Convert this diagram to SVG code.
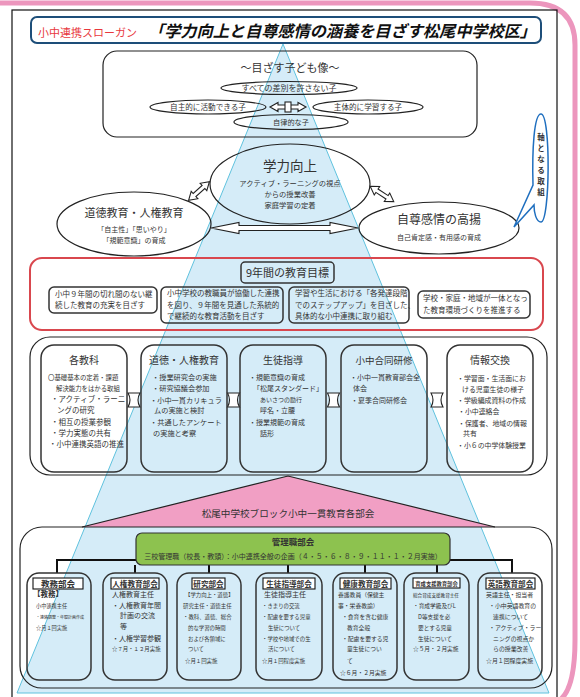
<svg xmlns="http://www.w3.org/2000/svg" width="580" height="697" viewBox="0 0 580 697">
<style>
text{font-family:"Noto Sans CJK JP","Noto Sans",sans-serif;fill:#333}
.c{text-anchor:middle}
.b{font-weight:bold}
.ln{fill:none;stroke:#222;stroke-width:1.2}
.bx{fill:none;stroke:#333;stroke-width:1.5}
.ar{fill:#fff;stroke:#222;stroke-width:1.1}
.wire{fill:none;stroke:#111;stroke-width:2}
.lbl{fill:#fff;stroke:#111;stroke-width:1.1}
</style>
<defs>
<path id="darr" d="M-14,0 L-6,-5 L-6,-2 L6,-2 L6,-5 L14,0 L6,5 L6,2 L-6,2 L-6,5 Z"/>
<path id="link" d="M-6,-7 Q-2,0 -6,7 L6,7 Q2,0 6,-7 Z"/>
</defs>
<rect width="580" height="697" fill="#fff"/>
<path d="M0,3 H530 Q575,3 575,45 V640 Q575,688 560,700" fill="none" stroke="#ec96bd" stroke-width="5"/>
<rect x="12" y="10" width="545" height="700" fill="none" stroke="#111" stroke-width="1.2"/>

<g id="pyramid">
<polygon points="283,44 17,693 549,693" fill="#d5ecf8" stroke="#5fc2de" stroke-width="1"/>
</g>

<g id="slogan">
<rect x="31" y="17" width="510" height="26" rx="6" fill="#fff" stroke="#1d4e79" stroke-width="2"/>
<text x="38" y="37" style="font-size:11px;fill:#e8383d">小中連携スローガン</text>
<text x="148" y="37" class="b" textLength="388" lengthAdjust="spacingAndGlyphs" style="font-size:16px;font-style:italic;fill:#111">「学力向上と自尊感情の涵養を目ざす松尾中学校区」</text>
</g>

<g id="connectors">
<use href="#darr" transform="translate(199,191) rotate(-42)" class="ar"/>
<use href="#darr" transform="translate(382,194) rotate(33)" class="ar"/>
<path class="ar" d="M211,228 L239,222.5 L239,225.5 L330,225.5 L330,222.5 L358,228 L330,233.5 L330,230.5 L239,230.5 L239,233.5 Z"/>
<path class="ar" d="M270,107 L278,102.5 L278,105 L298,105 L298,102.5 L306,107 L298,111.5 L298,109 L278,109 L278,111.5 Z"/>
<rect class="ar" x="285" y="102" width="6" height="10"/>
<use href="#link" transform="translate(134,400)" class="ar"/>
<use href="#link" transform="translate(233.5,400)" class="ar"/>
<use href="#link" transform="translate(333.5,400)" class="ar"/>
<use href="#link" transform="translate(437,400)" class="ar"/>
<path class="wire" d="M57,573 V560 H136 M450,560 H512 V573 M135,565 V573 M209,565 V573 M288,565 V573 M365,565 V573 M437,565 V573"/>
</g>

<g id="kodomo">
<rect x="103" y="51" width="374" height="86" rx="14" class="ln"/>
<text x="290" y="72" class="c" style="font-size:11px">～目ざす子ども像～</text>
<ellipse cx="289" cy="88" rx="68" ry="6.5" class="ln"/>
<text x="289" y="91" class="c" style="font-size:8px">すべての差別を許さない子</text>
<ellipse cx="208" cy="107" rx="58" ry="7" class="ln"/>
<text x="208" y="110" class="c" style="font-size:7.6px">自主的に活動できる子</text>
<ellipse cx="368" cy="107" rx="55" ry="7" class="ln"/>
<text x="368" y="110" class="c" style="font-size:7.6px">主体的に学習する子</text>
<ellipse cx="291" cy="122" rx="57" ry="7.5" class="ln"/>
<text x="291" y="125" class="c" style="font-size:7.2px">自律的な子</text>
</g>

<g id="gakuryoku">
<ellipse cx="290" cy="184" rx="80" ry="40" class="ln"/>
<text x="290" y="171" class="c" style="font-size:13.5px">学力向上</text>
<text x="290" y="186" class="c" style="font-size:7.3px">アクティブ・ラーニングの視点</text>
<text x="290" y="197" class="c" style="font-size:7.3px">からの授業改善</text>
<text x="290" y="208" class="c" style="font-size:7.3px">家庭学習の定着</text>
</g>

<g id="doutoku">
<ellipse cx="134" cy="224" rx="77" ry="32" class="ln"/>
<text x="134" y="217" class="c" style="font-size:11px">道徳教育・人権教育</text>
<text x="134" y="232" class="c" style="font-size:7px">「自主性」「思いやり」</text>
<text x="134" y="243" class="c" style="font-size:7px">「規範意識」の育成</text>
</g>

<g id="jison">
<ellipse cx="439" cy="228" rx="80" ry="26" class="ln"/>
<text x="439" y="224" class="c" style="font-size:12px">自尊感情の高揚</text>
<text x="439" y="240" class="c" style="font-size:7px">自己肯定感・有用感の育成</text>
</g>

<g id="jiku">
<path d="M541,114 C551,114 550,222 541,222 C536,222 534,212 534,205 L514,227 L533,185 C532,150 534,114 541,114 Z" fill="#fff" stroke="#1f6fbf" stroke-width="1.5"/>
<g class="c b" style="font-size:7.5px">
<text x="541" y="140">軸</text>
<text x="541" y="151">と</text>
<text x="541" y="162">な</text>
<text x="541" y="173">る</text>
<text x="541" y="184">取</text>
<text x="541" y="195">組</text>
</g>
</g>

<g id="mokuhyo">
<rect x="30" y="258" width="513" height="72" rx="12" fill="none" stroke="#d9474e" stroke-width="2"/>
<rect x="241" y="262" width="93" height="21" rx="4" class="bx"/>
<text x="287.5" y="277" class="c" style="font-size:11px">9年間の教育目標</text>
<g style="font-size:7.5px">
<rect x="49" y="287" width="108" height="26" rx="5" class="bx"/>
<text x="55" y="297">小中９年間の切れ間のない継</text>
<text x="55" y="308">続した教育の充実を目ざす</text>
<rect x="161" y="287" width="122" height="36" rx="5" class="bx"/>
<text x="167" y="296">小中学校の教職員が協働した連携</text>
<text x="167" y="308">を図り、９年間を見通した系統的</text>
<text x="167" y="319">で継続的な教育活動を目ざす</text>
<rect x="289" y="287" width="120" height="36" rx="5" class="bx"/>
<text x="295" y="296">学習や生活における「各発達段階</text>
<text x="295" y="308">でのステップアップ」を目ざした、</text>
<text x="295" y="319">具体的な小中連携に取り組む</text>
<rect x="418" y="291" width="112" height="27" rx="5" class="bx"/>
<text x="423" y="301">学校・家庭・地域が一体となっ</text>
<text x="423" y="313">た教育環境づくりを推進する</text>
</g>
</g>

<g id="torikumi">
<rect x="30" y="337" width="517" height="138" rx="20" class="ln"/>
</g>

<g id="kakukyouka">
<rect x="41" y="345" width="86" height="127" rx="13" class="bx"/>
<text x="84" y="364" class="c" style="font-size:10px">各教科</text>
<text x="48" y="380" style="font-size:6.4px">〇基礎基本の定着・課題</text>
<text x="56" y="391" style="font-size:6.4px">解決能力をはかる取組</text>
<g style="font-size:7.5px">
<text x="51" y="402">・アクティブ・ラーニ</text>
<text x="57" y="413">ングの研究</text>
<text x="51" y="425">・相互の授業参観</text>
<text x="51" y="436">・学力実態の共有</text>
<text x="49" y="447">・小中連携英語の推進</text>
</g>
</g>

<g id="doutoku2">
<rect x="141" y="345" width="86" height="127" rx="13" class="bx"/>
<text x="184" y="364" class="c" style="font-size:10px">道徳・人権教育</text>
<g style="font-size:7.2px">
<text x="152" y="380">・授業研究会の実施</text>
<text x="152" y="391">・研究協議会参加</text>
<text x="150" y="403">・小中一貫カリキュラ</text>
<text x="154" y="413">ムの実施と検討</text>
<text x="150" y="425">・共通したアンケート</text>
<text x="153" y="436">の実施と考察</text>
</g>
</g>

<g id="seitoshidou">
<rect x="240" y="345" width="86" height="127" rx="13" class="bx"/>
<text x="283" y="364" class="c" style="font-size:10px">生徒指導</text>
<g style="font-size:7px">
<text x="249" y="380">・規範意識の育成</text>
<text x="253" y="391">「松尾スタンダード」</text>
<text x="260" y="402" style="font-size:6px">あいさつの励行</text>
<text x="260" y="413">呼名・立腰</text>
<text x="249" y="425">・授業規範の育成</text>
<text x="260" y="436">話形</text>
</g>
</g>

<g id="goudou">
<rect x="341" y="345" width="86" height="127" rx="13" class="bx"/>
<text x="384" y="364" class="c" style="font-size:9.5px">小中合同研修</text>
<g style="font-size:7px">
<text x="350" y="380">・小中一貫教育部会全</text>
<text x="353" y="391">体会</text>
<text x="351" y="403">・夏季合同研修会</text>
</g>
</g>

<g id="jouhou">
<rect x="447" y="345" width="86" height="127" rx="13" class="bx"/>
<text x="490" y="364" class="c" style="font-size:10px">情報交換</text>
<g style="font-size:6.9px">
<text x="457" y="381">・学習面・生活面にお</text>
<text x="462" y="392">ける児童生徒の様子</text>
<text x="457" y="403">・学級編成資料の作成</text>
<text x="458" y="414">・小中連絡会</text>
<text x="458" y="426">・保護者、地域の情報</text>
<text x="463" y="436">共有</text>
<text x="457" y="448">・小６の中学体験授業</text>
</g>
</g>

<g id="bukai">
<polygon points="288,476 82,527 495,527" fill="#f19fc4"/>
<polyline points="82,527 288,476 495,527" class="ln"/>
<text x="288" y="517" class="c" style="font-size:9.6px">松尾中学校ブロック小中一貫教育各部会</text>
<rect x="20" y="527" width="532" height="161" rx="22" class="ln"/>
</g>

<g id="kanrishoku">
<rect x="136" y="533" width="314" height="32" rx="6" fill="#8dc24f" stroke="#333" stroke-width="1.2"/>
<text x="293" y="545" class="c b" style="font-size:8.5px">管理職部会</text>
<text x="293" y="559" class="c" style="font-size:7px">三校管理職（校長・教頭）：小中連携全般の企画（４・５・６・８・９・１１・１・２月実施）</text>
</g>

<g id="kyomu">
<rect x="27" y="573" width="64" height="107" rx="12" class="bx"/>
<rect x="33" y="578" width="50" height="11" class="lbl"/>
<text x="58" y="587" class="c b" style="font-size:8.5px">教務部会</text>
<text x="33" y="597" class="b" style="font-size:7.5px">【教務】</text>
<text x="36" y="608" style="font-size:5.2px">小中連携主任</text>
<text x="36" y="619" style="font-size:4px">・連絡調整・年間計画作成</text>
<text x="36" y="630" style="font-size:5.2px">☆月１回実施</text>
</g>

<g id="jinken">
<rect x="103" y="573" width="64" height="107" rx="12" class="bx"/>
<rect x="111" y="578" width="48" height="11" class="lbl"/>
<text x="135" y="587" class="c b" style="font-size:7.6px">人権教育部会</text>
<g style="font-size:7px">
<text x="112" y="597">人権教育主任</text>
<text x="112" y="608">・人権教育年間</text>
<text x="120" y="618">計画の交流</text>
<text x="120" y="629">等</text>
<text x="112" y="641">・人権学習参観</text>
</g>
<text x="112" y="651" style="font-size:5.4px">☆７月・１２月実施</text>
</g>

<g id="kenkyu">
<rect x="177" y="573" width="64" height="107" rx="12" class="bx"/>
<rect x="192" y="578" width="33" height="11" class="lbl"/>
<text x="208.5" y="587" class="c b" style="font-size:7.6px">研究部会</text>
<g style="font-size:5.4px">
<text x="185" y="597">【学力向上・道徳】</text>
<text x="183" y="608">研究主任・道徳主任</text>
<text x="183" y="619">・教科、道徳、総合</text>
<text x="188" y="630">的な学習の時間</text>
<text x="188" y="641">および各領域に</text>
<text x="188" y="651">ついて</text>
<text x="185" y="663">☆月１回実施</text>
</g>
</g>

<g id="seitobukai">
<rect x="256" y="573" width="66" height="107" rx="12" class="bx"/>
<rect x="263" y="578" width="52" height="11" class="lbl"/>
<text x="289" y="587" class="c b" style="font-size:7.6px">生徒指導部会</text>
<text x="264" y="597" style="font-size:7px">生徒指導主任</text>
<g style="font-size:5.4px">
<text x="262" y="608">・きまりの交流</text>
<text x="262" y="619">・配慮を要する児童</text>
<text x="268" y="630">生徒について</text>
<text x="262" y="641">・学校や地域での生</text>
<text x="268" y="651">活について</text>
<text x="262" y="663">☆月１回程度実施</text>
</g>
</g>

<g id="kenkou">
<rect x="333" y="573" width="64" height="107" rx="12" class="bx"/>
<rect x="340" y="578" width="51" height="11" class="lbl"/>
<text x="365.5" y="587" class="c b" style="font-size:7.6px">健康教育部会</text>
<g style="font-size:5.8px">
<text x="338" y="597">養護教員（保健主</text>
<text x="338" y="608">事・栄養教諭）</text>
<text x="342" y="619">・食育を含む健康</text>
<text x="347" y="630">教育全般</text>
<text x="342" y="641">・配慮を要する児</text>
<text x="347" y="651">童生徒につい</text>
<text x="347" y="663">て</text>
<text x="340" y="675">☆６月・２月実施</text>
</g>
</g>

<g id="ikusei">
<rect x="404" y="573" width="65" height="107" rx="12" class="bx"/>
<rect x="413" y="578" width="47" height="10" class="lbl"/>
<text x="436.5" y="586" class="c b" style="font-size:5.3px">育成支援教育部会</text>
<text x="413" y="597" style="font-size:4.6px">総合育成支援教育主任</text>
<g style="font-size:5.7px">
<text x="413" y="608">・育成学級及びL</text>
<text x="418" y="619">D等支援を必</text>
<text x="418" y="630">要とする児童</text>
<text x="418" y="641">生徒について</text>
<text x="413" y="651">☆５月・２月実施</text>
</g>
</g>

<g id="eigo">
<rect x="478" y="573" width="64" height="107" rx="12" class="bx"/>
<rect x="486" y="578" width="49" height="11" class="lbl"/>
<text x="510.5" y="587" class="c b" style="font-size:7.6px">英語教育部会</text>
<g style="font-size:5.9px">
<text x="486" y="597">英語主任・担当者</text>
<text x="489" y="608">・小中英語教育の</text>
<text x="493" y="619">連携について</text>
<text x="489" y="630">・アクティブ・ラー</text>
<text x="493" y="641">ニングの視点か</text>
<text x="493" y="651">らの授業改善</text>
<text x="486" y="663">☆月１回程度実施</text>
</g>
</g>
</svg>
